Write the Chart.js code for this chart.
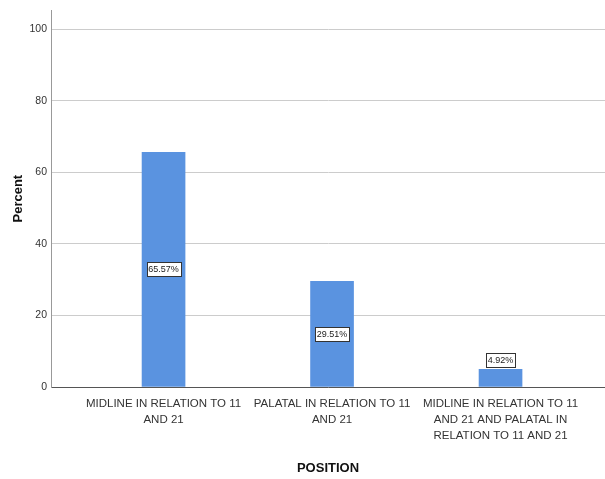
<!DOCTYPE html>
<html>
<head>
<meta charset="utf-8">
<script src="https://cdn.jsdelivr.net/npm/chart.js@4.4.1/dist/chart.umd.min.js"></script>
<style>
  html, body { margin: 0; padding: 0; background: #ffffff; }
  #wrap { width: 605px; height: 479px; }
</style>
</head>
<body>
<div id="wrap"><canvas id="position-chart" width="605" height="479"></canvas></div>
<script>
// 資料
const categories = [
    ['MIDLINE IN RELATION TO 11', 'AND 21'],
    ['PALATAL IN RELATION TO 11', 'AND 21'],
    ['MIDLINE IN RELATION TO 11', 'AND 21 AND PALATAL IN', 'RELATION TO 11 AND 21'],
];
const percents = [65.57, 29.51, 4.92];
const yTicks = [0, 20, 40, 60, 80, 100];

const narrowFont = '"Liberation Sans Narrow", "Arial Narrow", "Liberation Sans", Arial, sans-serif';
const titleFont = '"Liberation Sans", Arial, sans-serif';

/**
 * 在長條上畫出百分比標籤（白底黑框）
 */
const barLabels = {
    id: 'barLabels',
    afterDatasetsDraw(chart) {
        const ctx = chart.ctx;
        const meta = chart.getDatasetMeta(0);
        ctx.save();
        ctx.font = '9px ' + narrowFont;
        ctx.textAlign = 'center';
        ctx.textBaseline = 'middle';
        meta.data.forEach((bar, i) => {
            const text = percents[i].toFixed(2) + '%';
            const w = Math.ceil(ctx.measureText(text).width) + 3;
            const h = 14;
            let cy;
            if (bar.base - bar.y > h + 6) {
                cy = (bar.y + bar.base) / 2;
            } else {
                cy = bar.y - 2 - h / 2;
            }
            const bx = Math.round(bar.x - w / 2) + 0.5;
            const by = Math.round(cy - h / 2) + 0.5;
            ctx.fillStyle = '#ffffff';
            ctx.fillRect(bx, by, w, h);
            ctx.strokeStyle = '#333333';
            ctx.lineWidth = 1;
            ctx.strokeRect(bx, by, w, h);
            ctx.fillStyle = '#222222';
            ctx.fillText(text, bar.x, by + h / 2 + 0.5);
        });
        ctx.restore();
    },
};

new Chart(document.getElementById('position-chart'), {
    type: 'bar',
    data: {
        datasets: [
            {
                data: percents.map((p, i) => ({ x: i, y: p })),
                backgroundColor: '#5a93e0',
                borderWidth: 0,
                barThickness: 43,
            },
        ],
    },
    options: {
        responsive: false,
        animation: false,
        layout: { padding: { top: 8, right: 0, left: 0, bottom: 0 } },
        plugins: {
            legend: { display: false },
            tooltip: { enabled: false },
        },
        scales: {
            x: {
                type: 'linear',
                offset: false,
                min: -0.668,
                max: 2.62,
                afterBuildTicks: (axis) => {
                    axis.ticks = categories.map((c, i) => ({ value: i }));
                },
                afterFit: (axis) => {
                    axis.height = 92;
                },
                grid: { display: false, drawTicks: false },
                border: { display: true, color: '#555555', width: 1 },
                ticks: {
                    autoSkip: false,
                    maxRotation: 0,
                    padding: 9,
                    color: '#333333',
                    font: { family: narrowFont, size: 11.5, lineHeight: 1.38 },
                    callback: (v) => categories[v],
                },
                title: {
                    display: true,
                    text: 'POSITION',
                    color: '#111111',
                    font: { family: titleFont, size: 13, weight: 'bold' },
                    padding: { top: 0, bottom: 3 },
                },
            },
            y: {
                min: 0,
                max: 105.3,
                afterBuildTicks: (axis) => {
                    axis.ticks = yTicks.map((v) => ({ value: v }));
                },
                afterFit: (axis) => {
                    axis.width = 51;
                },
                grid: { color: '#cccccc', lineWidth: 1, drawTicks: false },
                border: { display: true, color: '#999999', width: 1 },
                ticks: {
                    padding: 4,
                    color: '#333333',
                    font: { family: narrowFont, size: 10.5 },
                },
                title: {
                    display: true,
                    text: 'Percent',
                    color: '#111111',
                    font: { family: titleFont, size: 13, weight: 'bold' },
                    padding: { top: 11, bottom: 0 },
                },
            },
        },
    },
    plugins: [barLabels],
});
</script>
</body>
</html>
